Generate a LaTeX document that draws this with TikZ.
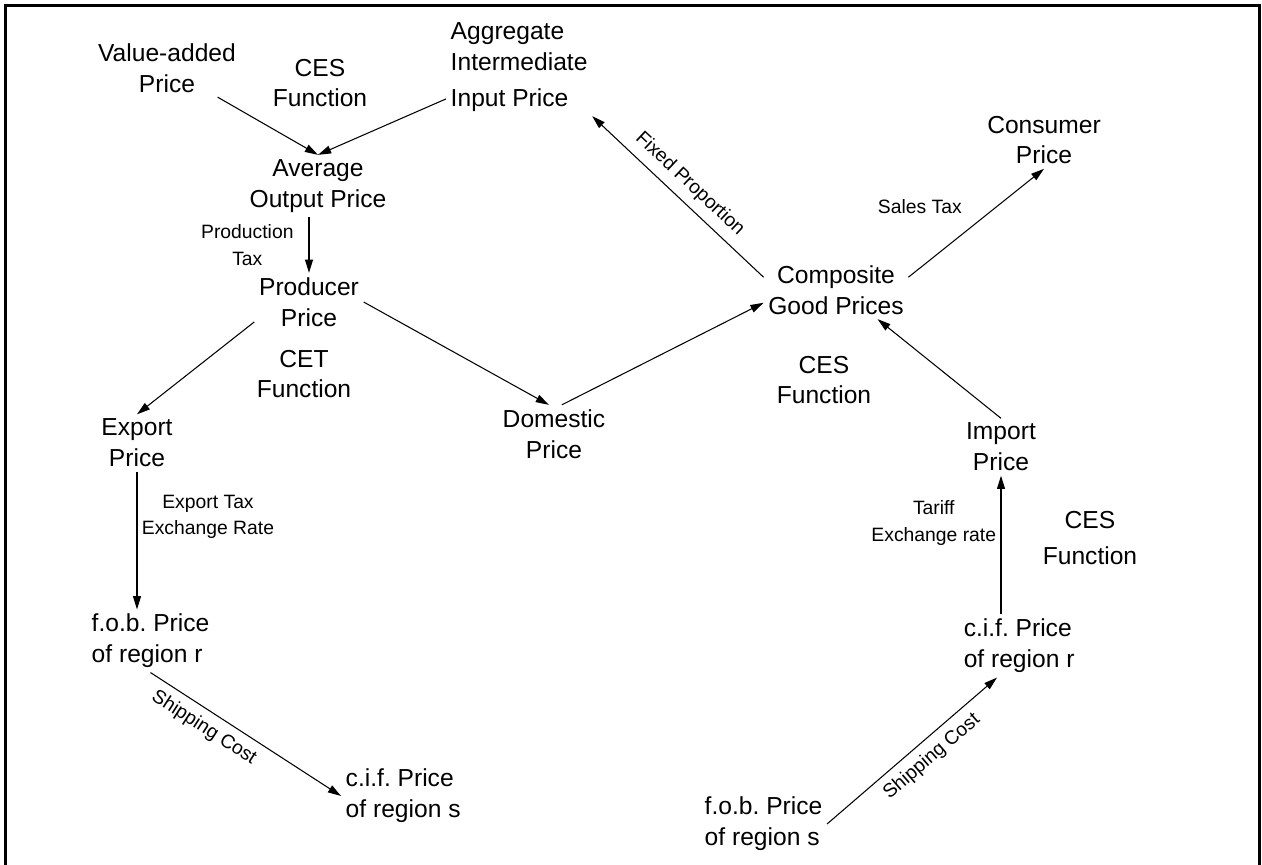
\documentclass[tikz,border=0pt]{standalone}
\usepackage{fontspec}
\setmainfont{Liberation Sans}
\usetikzlibrary{arrows.meta}
\frenchspacing

\begin{document}
\begin{tikzpicture}[x=0.02cm, y=-0.02cm,
    price/.style={align=center, inner sep=2.5pt, font=\fontsize{14}{17.5}\selectfont},
    leftprice/.style={price, align=left, anchor=west},
    func/.style={align=center, font=\fontsize{14}{17.5}\selectfont},
    tax/.style={align=center, inner sep=1.5pt, font=\fontsize{11}{15}\selectfont},
    arrow/.style={-{Triangle[length=7.5pt, width=4.5pt]}, line width=0.6pt},
    frame/.style={line width=1.7pt}
]
    \useasboundingbox (0,0) rectangle (1262,865);
    \draw[frame] (5.5,865) |- (1259,5.5) -- (1259,865);

    % Production side
    \node[price] (va) at (167,68) {Value-added\\Price};
    \node[func] (cestop) at (320,83) {CES\\Function};
    \node[leftprice] (agg) at (446,67) {Aggregate\\Intermediate\\[3pt]Input Price};
    \node[price] (avg) at (318,186) {Average\\Output Price};
    \node[price] (producer) at (309,302) {Producer\\Price};
    \node[func] (cet) at (304,374) {CET\\Function};
    \node[price] (export) at (137,443) {Export\\Price};
    \node[price] (domestic) at (554,434) {Domestic\\Price};

    % Export to region s
    \node[leftprice] (fobr) at (87,641) {f.o.b. Price\\of region r};
    \node[leftprice] (cifs) at (341,796) {c.i.f. Price\\of region s};

    % Demand side
    \node[price] (composite) at (836,290) {Composite\\Good Prices};
    \node[func] (cesmid) at (824,380) {CES\\Function};
    \node[price] (consumer) at (1044,140) {Consumer\\Price};
    \node[price] (import) at (1001,447) {Import\\Price};
    \node[func] (cesright) at (1090,538) {CES\\[3pt]Function};
    \node[leftprice] (cifr) at (959,646) {c.i.f. Price\\of region r};
    \node[leftprice] (fobs) at (700,824) {f.o.b. Price\\of region s};

    % Arrows
    \draw[arrow] (va) -- (avg.north);
    \draw[arrow] (agg) -- (avg.north);
    \draw[arrow] (producer.north |- avg.south) -- (producer.north)
        node[tax, midway, left=7pt] {Production\\Tax};
    \draw[arrow] (producer.200) -- (export.north);
    \draw[arrow] (producer.east) -- (domestic.100);
    \draw[arrow] (domestic.75) -- (composite.190);
    \draw[arrow] (composite.170) -- (agg.south east)
        node[tax, pos=0.5, above=3pt, sloped] {Fixed Proportion};
    \draw[arrow] (composite.10) -- (consumer.south)
        node[tax, pos=0.65, left=18pt] {Sales Tax};
    \draw[arrow] (import.north) -- (composite.-35);
    \draw[arrow] (export.south) -- (export.south |- fobr.north)
        node[tax, pos=0.33, right=1pt] {Export Tax\\Exchange Rate};
    \draw[arrow] (fobr.south) -- (cifs.west)
        node[tax, pos=0.33, below=3pt, sloped] {Shipping Cost};
    \draw[arrow] (fobs.east) -- (cifr.235)
        node[tax, pos=0.55, below=3pt, sloped] {Shipping Cost};
    \draw[arrow] (import.south |- cifr.north) -- (import.south)
        node[tax, pos=0.66, left=1pt] {Tariff\\Exchange rate};
\end{tikzpicture}
\end{document}
